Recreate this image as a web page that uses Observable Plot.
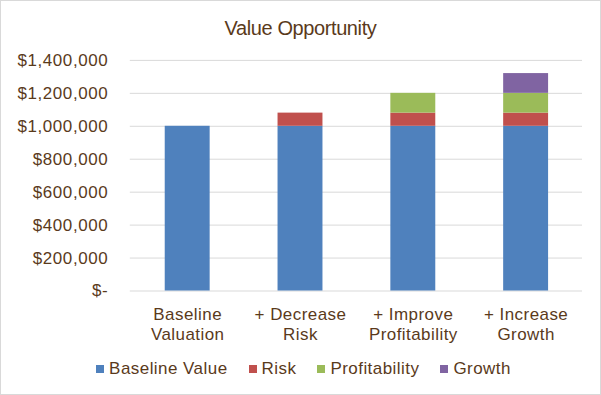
<!DOCTYPE html>
<html>
<head>
<meta charset="utf-8">
<script src="https://cdn.jsdelivr.net/npm/d3@7"></script>
<script src="https://cdn.jsdelivr.net/npm/@observablehq/plot@0.6"></script>
<style>
  body { margin: 0; background: #fff; }
  #wrap { position: relative; width: 601px; height: 395px; box-sizing: border-box; border: 1px solid #d9d9d9; font-family: "Liberation Sans", Arial, sans-serif; color: #5a3a1b; overflow: hidden; }
  #title { position: absolute; left: 0; right: 0; top: 16px; text-align: center; font-size: 20px; letter-spacing: -0.4px; }
  #chart { position: absolute; left: -1px; top: -1px; }
  #legend { position: absolute; left: 0; right: 0; top: 358px; display: flex; justify-content: center; font-size: 17px; letter-spacing: 0.45px; padding-left: 6px; }
  .item { display: flex; align-items: center; margin: 0 10.5px; }
  .sw { width: 8px; height: 8px; margin-right: 5px; }
  g[aria-label="y-axis tick label"] text { letter-spacing: 0.6px; }
  g[aria-label="x-axis tick label"] text { letter-spacing: 0.45px; }
</style>
</head>
<body>
<div id="wrap">
  <div id="title">Value Opportunity</div>
  <div id="chart"></div>
  <div id="legend"></div>
</div>
<script>
const categories = ["Baseline Valuation", "+ Decrease Risk", "+ Improve Profitability", "+ Increase Growth"];
const categoryLabels = ["Baseline\nValuation", "+ Decrease\nRisk", "+ Improve\nProfitability", "+ Increase\nGrowth"];
const seriesNames = ["Baseline Value", "Risk", "Profitability", "Growth"];
const seriesColors = ["#4f81bd", "#c0504d", "#9bbb59", "#8064a2"];
const baselineValue = [1000000, 1000000, 1000000, 1000000];
const risk = [0, 80000, 80000, 80000];
const profitability = [0, 0, 120000, 120000];
const growth = [0, 0, 0, 120000];
const yTicks = [0, 200000, 400000, 600000, 800000, 1000000, 1200000, 1400000];

const seriesValues = [baselineValue, risk, profitability, growth];
const rows = [];
seriesNames.forEach((s, si) => {
  categories.forEach((c, ci) => {
    const v = seriesValues[si][ci];
    if (v > 0) rows.push({category: c, series: s, value: v});
  });
});
const labelOf = new Map(categories.map((c, i) => [c, categoryLabels[i]]));
const fmt = d3.format(",");

const chart = Plot.plot({
  width: 601,
  height: 347,
  marginTop: 60,
  marginBottom: 56,
  marginLeft: 130,
  marginRight: 18,
  style: {fontFamily: '"Liberation Sans", Arial, sans-serif', color: "#5a3a1b", background: "transparent", overflow: "visible"},
  x: {type: "band", domain: categories, paddingInner: 0.604, paddingOuter: 0.302, label: null},
  y: {domain: [0, 1400000], label: null},
  color: {domain: seriesNames, range: seriesColors},
  marks: [
    Plot.gridY(yTicks, {stroke: "#d9d9d9", strokeOpacity: 1, strokeWidth: 1}),
    Plot.barY(rows, Plot.stackY({x: "category", y: "value", fill: "series", order: seriesNames})),
    Plot.axisY(yTicks, {tickSize: 0, tickPadding: 22, fontSize: 17, label: null, tickFormat: d => d === 0 ? "$-" : "$" + fmt(d), fill: "#5a3a1b"}),
    Plot.axisX({tickSize: 0, tickPadding: 15, fontSize: 17, lineHeight: 1.18, label: null, tickFormat: d => labelOf.get(d), fill: "#5a3a1b"})
  ]
});
document.getElementById("chart").appendChild(chart);

const legend = document.getElementById("legend");
seriesNames.forEach((s, i) => {
  const item = document.createElement("div");
  item.className = "item";
  const sw = document.createElement("span");
  sw.className = "sw";
  sw.style.background = seriesColors[i];
  const t = document.createElement("span");
  t.textContent = s;
  item.appendChild(sw);
  item.appendChild(t);
  legend.appendChild(item);
});
</script>
</body>
</html>
